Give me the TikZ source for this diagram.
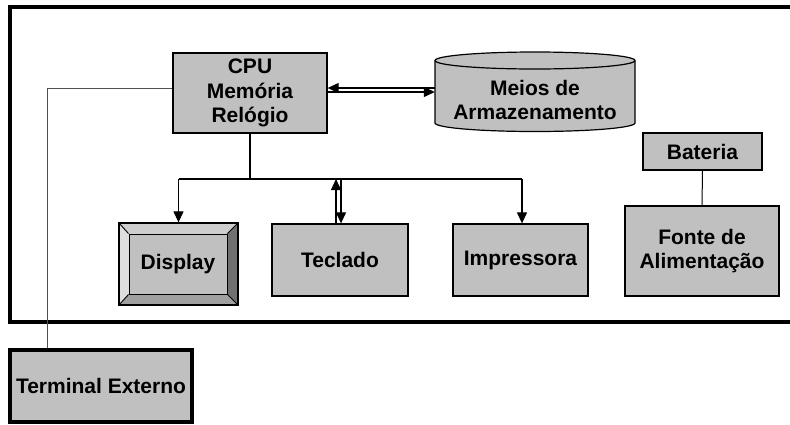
\documentclass[tikz,border=0pt]{standalone}
\usepackage{fontspec}
\setmainfont{Liberation Sans}
\usetikzlibrary{arrows.meta,calc}
\definecolor{boxgray}{HTML}{C0C0C0}
\definecolor{bevtop}{HTML}{CECECE}
\definecolor{bevleft}{HTML}{DEDEDE}
\definecolor{bevright}{HTML}{707070}
\definecolor{bevbottom}{HTML}{A0A0A0}
\definecolor{wire}{HTML}{505050}
\begin{document}
\begin{tikzpicture}[x=1pt,y=-1pt,
  lbl/.style={font=\bfseries\fontsize{21}{24.5}\selectfont, align=center, inner sep=0pt},
  blk/.style={lbl, draw=black, fill=boxgray, line width=1.3pt, rectangle},
  arr/.style={line width=1.2pt, -{Triangle[length=11pt,width=10pt]}},
  link/.style={line width=1.2pt}]
\useasboundingbox (0,0) rectangle (790,424);

% outer enclosure (open to the right)
\draw[line width=4pt] (800,7) -- (10,7) -- (10,322) -- (800,322);

% main unit
\node[blk, minimum width=154pt, minimum height=80pt] (cpu) at (250,93) {CPU\\Memória\\Relógio};

% storage cylinder
\draw[fill=boxgray, line width=1.2pt]
  (435,60.5) -- (435,123) arc[start angle=180, end angle=360, x radius=100pt, y radius=8.5pt]
  -- (635,60.5) arc[start angle=0, end angle=180, x radius=100pt, y radius=8.5pt] -- cycle;
\draw[line width=1.2pt] (435,60.5) arc[start angle=180, end angle=360, x radius=100pt, y radius=8.5pt];
\node[lbl, minimum width=200pt] (stor) at (535,100) {Meios de\\Armazenamento};

% CPU <-> storage
\draw[arr] ([yshift=12pt]stor.west) -- ([yshift=5pt]cpu.east);
\draw[arr] ([yshift=1pt]cpu.east) -- ([yshift=8pt]stor.west);

% peripherals
\fill[bevtop]    (119,223) -- (238,223) -- (227,234) -- (129,234) -- cycle;
\fill[bevleft]   (119,223) -- (129,234) -- (129,294) -- (119,305) -- cycle;
\fill[bevright]  (238,223) -- (238,305) -- (227,294) -- (227,234) -- cycle;
\fill[bevbottom] (119,305) -- (238,305) -- (227,294) -- (129,294) -- cycle;
\node[blk, minimum width=98pt, minimum height=60pt, line width=1pt] (disp) at (178,264) {Display};
\node[draw=black, line width=1.3pt, minimum width=119pt, minimum height=82pt, inner sep=0pt] (dispframe) at (178.5,264) {};
\draw[line width=0.9pt] (dispframe.north west) -- (disp.north west)
  (dispframe.north east) -- (disp.north east)
  (dispframe.south west) -- (disp.south west)
  (dispframe.south east) -- (disp.south east);

\node[blk, minimum width=136pt, minimum height=72pt] (tec) at (340,260) {Teclado};
\node[blk, minimum width=135pt, minimum height=72pt] (impr) at (520.5,260) {Impressora};

% bus from the CPU
\coordinate (bus) at (250,179);
\draw[link] (cpu.south) -- (bus);
\draw[link] (dispframe.north |- bus) -- ([xshift=1.5pt]impr.north |- bus);
\draw[arr] (dispframe.north |- bus) -- (dispframe.north);
\draw[arr] ([xshift=1.5pt]impr.north |- bus) -- ([xshift=1.5pt]impr.north);
\draw[arr] ([xshift=-4pt]tec.north) -- ([xshift=-4pt]tec.north |- bus);
\draw[arr] ([xshift=1pt]tec.north |- bus) -- ([xshift=1pt]tec.north);

% power supply
\node[blk, minimum width=119pt, minimum height=37pt] (bat) at (702.5,151.5) {Bateria};
\node[blk, minimum width=154pt, minimum height=90pt] (fonte) at (702,251) {Fonte de\\Alimentação};
\draw[line width=1pt] (bat.south) -- (fonte.north);

% external terminal
\node[blk, line width=4pt, minimum width=182pt, minimum height=72pt] (term) at (101,386) {Terminal Externo};
\coordinate (tbend) at (47,88);
\draw[wire, line width=1pt] ([yshift=5pt]cpu.west) -- (tbend) -- (tbend |- term.north);
\end{tikzpicture}
\end{document}
